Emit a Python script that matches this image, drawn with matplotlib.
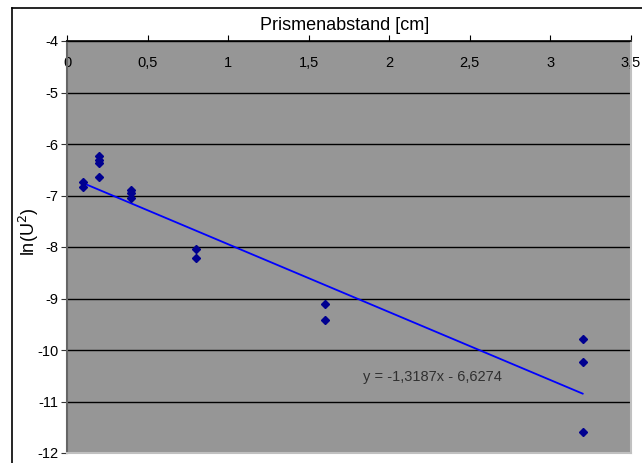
import matplotlib
matplotlib.use("Agg")
import matplotlib.pyplot as plt
from matplotlib.lines import Line2D

# Data
x_vals = [0.1, 0.1, 0.2, 0.2, 0.2, 0.2, 0.4, 0.4, 0.4, 0.8, 0.8, 1.6, 1.6, 3.2, 3.2, 3.2]
y_vals = [-6.73, -6.83, -6.24, -6.31, -6.36, -6.64, -6.90, -6.95, -7.05,
          -8.04, -8.22, -9.10, -9.42, -9.78, -10.23, -11.60]
slope = -1.3187
intercept = -6.6274
x_ticks = [0, 0.5, 1, 1.5, 2, 2.5, 3, 3.5]
x_tick_labels = ["0", "0,5", "1", "1,5", "2", "2,5", "3", "3,5"]
y_ticks = [-4, -5, -6, -7, -8, -9, -10, -11, -12]
title = "Prismenabstand [cm]"
ylabel = "ln(U$^2$)"
eq_text = "y = -1,3187x - 6,6274"

plt.rcParams['font.family'] = ['Liberation Sans', 'DejaVu Sans']

W, H = 642, 463
fig = plt.figure(figsize=(W/100, H/100), dpi=100)
fig.patch.set_facecolor('white')

l, r, t, b = 67, 631, 41, 453
ax = fig.add_axes([l/W, 1 - b/H, (r-l)/W, (b-t)/H])
ax.set_facecolor('#969696')
ax.set_xlim(0, 3.5)
ax.set_ylim(-12, -4)

# grid
ax.set_yticks(y_ticks)
ax.set_yticklabels([str(v) for v in y_ticks], fontsize=10.5)
ax.yaxis.grid(True, color='black', linewidth=1)
ax.set_axisbelow(True)

ax.xaxis.tick_top()
ax.set_xticks(x_ticks)
ax.set_xticklabels(x_tick_labels, fontsize=10.5)
ax.tick_params(axis='x', direction='out', length=4, pad=-25, color='black', top=True, bottom=False)
ax.tick_params(axis='y', direction='out', length=4, pad=2, color='#333333')

ax.spines['top'].set_color('black')
ax.spines['top'].set_linewidth(1.2)
ax.spines['left'].set_color('#666666')
ax.spines['left'].set_linewidth(1.5)
ax.spines['right'].set_color('#c0c0c0')
ax.spines['right'].set_linewidth(1.5)
ax.spines['bottom'].set_color('#c0c0c0')
ax.spines['bottom'].set_linewidth(1.5)

# trend line
xs = [min(x_vals), max(x_vals)]
ax.plot(xs, [slope*v + intercept for v in xs], color='#0000ff', linewidth=1.3, zorder=3)
# points
ax.plot(x_vals, y_vals, linestyle='none', marker='D', markersize=4.2,
        color='#000090', zorder=4)

ax.text(2.27, -10.52, eq_text, fontsize=10.5, color='#303030', ha='center', va='center')

fig.text(345/W, 1 - 25/H, title, fontsize=13, ha='center', va='center')
fig.text(29/W, 1 - 232/H, ylabel, fontsize=13, rotation=90, ha='center', va='center')

# figure border (chart area)
fig.add_artist(Line2D([12/W, 12/W], [0, 1 - 8/H], color='black', linewidth=1.2))
fig.add_artist(Line2D([12/W, 1], [1 - 8/H, 1 - 8/H], color='black', linewidth=1.2))

fig.savefig('out.png', dpi=100)
